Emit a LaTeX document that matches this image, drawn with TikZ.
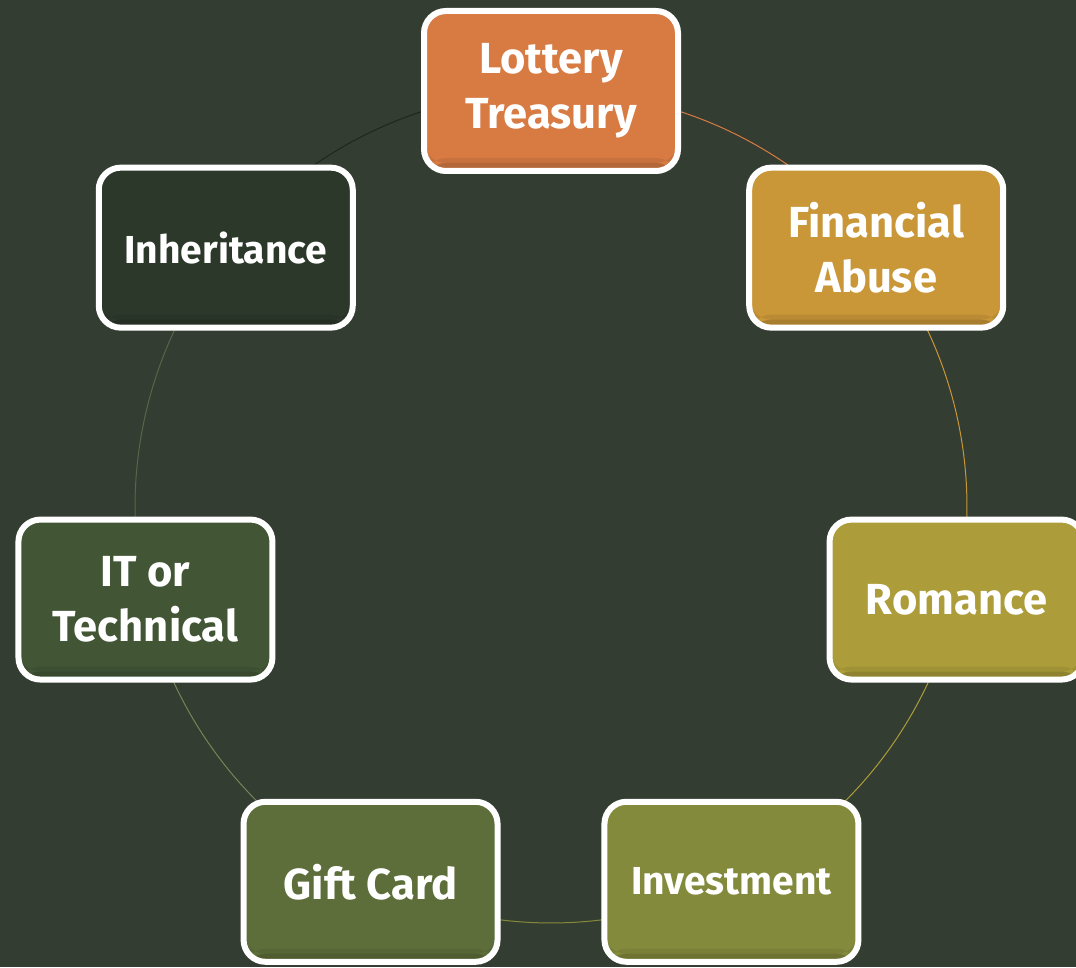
\documentclass[tikz,border=0pt]{standalone}
\usepackage{fontspec}
\setmainfont{Fira Sans}
\usepackage{xcolor}
\usepackage{tikz}
\usetikzlibrary{calc, backgrounds}
\definecolor{bgc}{RGB}{52,61,49}
\definecolor{lotteryc}{RGB}{215,123,67}
\definecolor{financec}{RGB}{201,150,56}
\definecolor{romancec}{RGB}{172,157,58}
\definecolor{investc}{RGB}{132,138,60}
\definecolor{giftc}{RGB}{93,110,58}
\definecolor{techc}{RGB}{66,86,54}
\definecolor{inheritc}{RGB}{44,56,42}
\tikzstyle{cyclebox} = [draw=white, line width=6pt, rectangle, rounded corners=22pt, minimum width=254pt, minimum height=160pt, text=white, align=center, font=\bfseries\fontsize{43.5}{55}\selectfont,
    path picture={
        \fill[black, opacity=0.16] (path picture bounding box.south west) rectangle ($(path picture bounding box.south east)+(0,8)$);
        \fill[black, opacity=0.07] ($(path picture bounding box.south west)+(0,8)$) rectangle ($(path picture bounding box.south east)+(0,13)$);
    }]
\tikzstyle{fitbox} = [font=\bfseries\fontsize{39}{55}\selectfont]
\tikzstyle{link} = [line width=1pt]

\begin{document}
\begin{tikzpicture}[x=1pt, y=1pt]
    \useasboundingbox (0,0) rectangle (1076,967);
    \coordinate (hub) at (551,460);

    % Draw blocks
    \node (lottery) [cyclebox, fill=lotteryc] at ($(hub)+(90:416)$) {Lottery\\Treasury};
    \node (finance) [cyclebox, fill=financec] at ($(hub)+(38.57:416)$) {Financial\\Abuse};
    \node (romance) [cyclebox, fill=romancec] at ($(hub)+(-12.86:416)$) {Romance};
    \node (invest) [cyclebox, fitbox, fill=investc] at ($(hub)+(-64.29:416)$) {Investment};
    \node (gift) [cyclebox, fill=giftc] at ($(hub)+(-115.71:416)$) {Gift Card};
    \node (tech) [cyclebox, fill=techc] at ($(hub)+(-167.14:416)$) {IT or\\Technical};
    \node (inherit) [cyclebox, fitbox, fill=inheritc] at ($(hub)+(141.43:416)$) {Inheritance};

    % Links (behind the blocks)
    \begin{scope}[on background layer]
        \fill[bgc] (0,0) rectangle (1076,967);
        \draw [link, lotteryc] (lottery.center) arc[start angle=90, end angle=38.57, radius=416];
        \draw [link, financec] (finance.center) arc[start angle=38.57, end angle=-12.86, radius=416];
        \draw [link, romancec] (romance.center) arc[start angle=-12.86, end angle=-64.29, radius=416];
        \draw [link, investc] (invest.center) arc[start angle=-64.29, end angle=-115.71, radius=416];
        \draw [link, giftc!85!white] (gift.center) arc[start angle=-115.71, end angle=-167.14, radius=416];
        \draw [link, techc!90!white] (tech.center) arc[start angle=-167.14, end angle=-218.57, radius=416];
        \draw [link, inheritc!70!black] (inherit.center) arc[start angle=141.43, end angle=90, radius=416];
    \end{scope}
\end{tikzpicture}
\end{document}
